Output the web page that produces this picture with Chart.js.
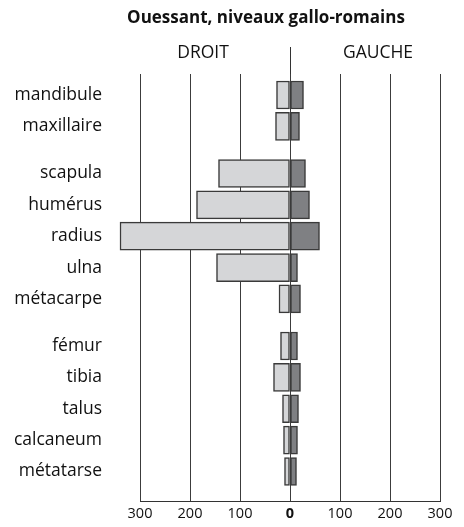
<!DOCTYPE html>
<html>
<head>
<meta charset="utf-8">
<script src="https://cdn.jsdelivr.net/npm/chart.js@4.4.1/dist/chart.umd.min.js"></script>
<style>
  html, body { margin: 0; padding: 0; background: #ffffff; }
  #wrap { width: 464px; height: 527px; position: relative; }
</style>
</head>
<body>
<div id="wrap"><canvas id="c" width="464" height="527"></canvas></div>
<script>
// ---- data ----
const title = "Ouessant, niveaux gallo-romains";
const sideLabels = ["DROIT", "GAUCHE"];
const categories = ["mandibule", "maxillaire", "scapula", "humérus", "radius", "ulna", "métacarpe", "fémur", "tibia", "talus", "calcaneum", "métatarse"];
const groupSizes = [2, 5, 5];
const droit  = [27, 29, 143, 187, 340, 147, 22, 19, 33, 15, 13, 11];
const gauche = [27, 19, 31, 39, 59, 15, 21, 15, 21, 17, 15, 13];
const xTicks = [-300, -200, -100, 0, 100, 200, 300];

// ---- layout helpers ----
const GROUP_GAP = 0.5;
const rowPos = [];
(function () {
  let p = 0;
  groupSizes.forEach((n, gi) => {
    if (gi > 0) p += GROUP_GAP;
    for (let k = 0; k < n; k++) { rowPos.push(p); p += 1; }
  });
})();
const lastPos = rowPos[rowPos.length - 1];

const FONT = "'Open Sans', 'DejaVu Sans', sans-serif";

const headerPlugin = {
  id: 'header',
  afterDraw(chart) {
    const ctx = chart.ctx;
    const xs = chart.scales.x;
    const area = chart.chartArea;
    ctx.save();
    const x0 = Math.round(xs.getPixelForValue(0)) + 0.5;
    ctx.strokeStyle = '#333333';
    ctx.lineWidth = 1;
    ctx.beginPath();
    ctx.moveTo(x0, 47);
    ctx.lineTo(x0, area.top);
    ctx.stroke();
    ctx.fillStyle = '#111111';
    ctx.textAlign = 'center';
    ctx.textBaseline = 'middle';
    ctx.font = "bold 17px " + FONT;
    ctx.fillText(title, 266, 18);
    ctx.font = "17.5px " + FONT;
    ctx.fillText(sideLabels[0], xs.getPixelForValue(-174), 53);
    ctx.fillText(sideLabels[1], xs.getPixelForValue(176), 53);
    ctx.restore();
  }
};

new Chart(document.getElementById('c'), {
  type: 'bar',
  data: {
    datasets: [
      {
        label: sideLabels[0],
        data: droit.map((v, i) => ({ x: -v, y: rowPos[i] })),
        backgroundColor: '#d5d6d8',
        borderColor: '#3a3a3a',
        borderWidth: 1.5,
        borderSkipped: false,
        barThickness: 28,
        grouped: false,
        clip: false
      },
      {
        label: sideLabels[1],
        data: gauche.map((v, i) => ({ x: v, y: rowPos[i] })),
        backgroundColor: '#7f8083',
        borderColor: '#3a3a3a',
        borderWidth: 1.5,
        borderSkipped: false,
        barThickness: 28,
        grouped: false,
        clip: false
      }
    ]
  },
  options: {
    indexAxis: 'y',
    responsive: false,
    animation: false,
    devicePixelRatio: 1,
    layout: { padding: { left: 0, right: 24, top: 74, bottom: 0 } },
    plugins: {
      legend: { display: false },
      tooltip: { enabled: false },
      title: { display: false }
    },
    scales: {
      x: {
        type: 'linear',
        min: -300,
        max: 300,
        afterBuildTicks: (axis) => { axis.ticks = xTicks.map(v => ({ value: v })); },
        afterFit: (s) => { s.height = 26; },
        ticks: {
          callback: (v) => String(Math.abs(v)),
          color: '#111111',
          padding: 4,
          maxRotation: 0,
          font: (ctx) => ({ family: FONT, size: 14.5, weight: (ctx.tick && ctx.tick.value === 0) ? 'bold' : 'normal' })
        },
        grid: { color: '#3c3c3c', lineWidth: 1, drawTicks: false },
        border: { display: true, color: '#333333', width: 1 }
      },
      y: {
        type: 'linear',
        reverse: true,
        offset: false,
        min: -0.67,
        max: lastPos + 0.94,
        afterBuildTicks: (axis) => { axis.ticks = rowPos.map(v => ({ value: v })); },
        afterFit: (s) => { s.width = 140; s.paddingTop = 0; s.paddingBottom = 0; },
        ticks: {
          autoSkip: false,
          callback: (v) => { const i = rowPos.indexOf(v); return i >= 0 ? categories[i] : ''; },
          color: '#111111',
          padding: 38,
          font: { family: FONT, size: 17.5 }
        },
        grid: { display: false, drawTicks: false },
        border: { display: false }
      }
    }
  },
  plugins: [headerPlugin]
});
</script>
</body>
</html>
